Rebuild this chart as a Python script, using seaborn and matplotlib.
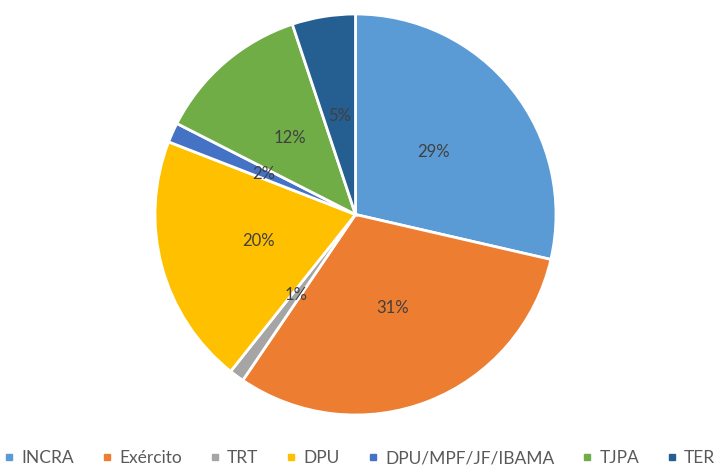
import matplotlib
matplotlib.use("Agg")
import matplotlib.pyplot as plt
from matplotlib.lines import Line2D
import seaborn as sns

# Data
labels = ["INCRA", "Exército", "TRT", "DPU", "DPU/MPF/JF/IBAMA", "TJPA", "TER"]
shares = [28.6, 30.9, 1.2, 20.2, 1.6, 12.4, 5.1]
colors = ["#5B9BD5", "#ED7D31", "#A5A5A5", "#FFC000", "#4472C4", "#70AD47", "#255E91"]

sns.set_theme(style="white")
plt.rcParams["font.family"] = ["Lato", "DejaVu Sans"]
palette = sns.color_palette(colors)

fig = plt.figure(figsize=(7.15, 4.71), dpi=100)
r = 200.5
cx, cy = 355.5, 214.5
ax = fig.add_axes([(cx - r) / 715, (471 - cy - r) / 471, 2 * r / 715, 2 * r / 471])

wedges, texts, autotexts = ax.pie(
    shares,
    colors=palette,
    startangle=90,
    counterclock=False,
    autopct="%.0f%%",
    pctdistance=0.5,
    wedgeprops={"edgecolor": "white", "linewidth": 2},
    textprops={"color": "#404040", "fontsize": 12},
)
ax.set_xlim(-1, 1)
ax.set_ylim(-1, 1)
ax.set_aspect("equal")

handles = [Line2D([0], [0], marker="s", linestyle="", markersize=5,
                  markerfacecolor=c, markeredgecolor=c) for c in palette]
fig.legend(handles, labels, loc="center", bbox_to_anchor=(0.503, 1 - 458 / 471),
           ncol=len(labels), frameon=False, fontsize=12.5,
           handlelength=0.6, handletextpad=0.4, columnspacing=1.6,
           labelcolor="#595959", borderpad=0)

fig.savefig("out.png", dpi=100, facecolor="white")
